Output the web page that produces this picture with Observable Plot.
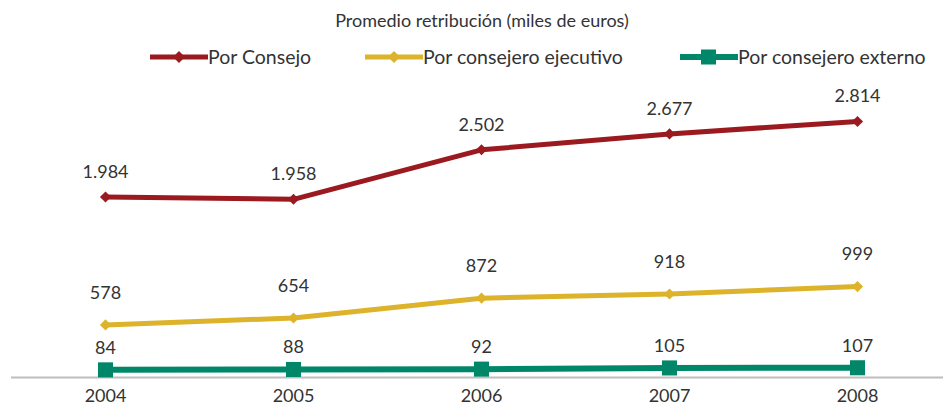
<!DOCTYPE html>
<html><head><meta charset="utf-8">
<script src="https://cdn.jsdelivr.net/npm/d3@7"></script>
<script src="https://cdn.jsdelivr.net/npm/@observablehq/plot@0.6"></script>
<style>
body{margin:0;background:#fff;font-family:Lato,"Open Sans",sans-serif;color:#333;}
#wrap{width:943px;}
#head{position:relative;height:75px;width:943px;}
#title{position:absolute;left:0;width:964px;top:9px;text-align:center;font-size:18px;}
.leg{position:absolute;top:45px;display:flex;align-items:center;font-size:19.5px;}
.leg svg{display:block;margin-right:0px;}
</style></head>
<body><div id="wrap"><div id="head"><div id="title"></div></div><div id="chart"></div></div>
<script>
const years = ["2004","2005","2006","2007","2008"];
const seriesNames = ["Por Consejo","Por consejero ejecutivo","Por consejero externo"];
const porConsejo = [1984,1958,2502,2677,2814];
const porEjecutivo = [578,654,872,918,999];
const porExterno = [84,88,92,105,107];
const colors = ["#9B1A1F","#DCB32A","#00876A"];
const titleText = "Promedio retribución (miles de euros)";

const fmt = v => v >= 1000 ? Math.floor(v/1000) + "." + String(v%1000).padStart(3,"0") : String(v);
const seriesValues = [porConsejo, porEjecutivo, porExterno];
const data = [];
seriesNames.forEach((s,i) => years.forEach((y,j) => data.push({series:s, year:y, value:seriesValues[i][j]})));

document.getElementById("title").textContent = titleText;
const head = document.getElementById("head");
const legLeft = [150,365,680];
seriesNames.forEach((s,i) => {
  const d = document.createElement("div");
  d.className = "leg"; d.style.left = legLeft[i] + "px";
  const sq = i === 2;
  d.innerHTML = `<svg width="58" height="16"><line x1="0" x2="58" y1="8" y2="8" stroke="${colors[i]}" stroke-width="${sq?6:5}"/>` +
    (sq ? `<rect x="21" y="0.5" width="15" height="15" fill="${colors[i]}"/>` :
          `<path d="M29 2 L35 8 L29 14 L23 8 Z" fill="${colors[i]}"/>`) + `</svg><span>${s}</span>`;
  head.appendChild(d);
});

const dys = {"Por Consejo":-25,"Por consejero ejecutivo":-32,"Por consejero externo":-22};
const chart = Plot.plot({
  width: 943, height: 332,
  marginTop: 29, marginBottom: 30, marginLeft: 11, marginRight: 0,
  style: {fontFamily: "Lato, 'Open Sans', sans-serif", fontSize: "18px", color: "#333", background: "#fff"},
  x: {type: "point", domain: years, range: [105, 857], padding: 0, label: null},
  y: {domain: [0, 3000], axis: null},
  color: {domain: seriesNames, range: colors},
  marks: [
    Plot.ruleY([0], {stroke: "#BDBDBD", strokeWidth: 2}),
    Plot.axisX({tickSize: 0, tickPadding: 12, fontSize: 18, fill: "#333", label: null}),
    Plot.line(data.filter(d => d.series !== seriesNames[2]), {x: "year", y: "value", z: "series", stroke: "series", strokeWidth: 5, strokeLinejoin: "round"}),
    Plot.line(data.filter(d => d.series === seriesNames[2]), {x: "year", y: "value", stroke: colors[2], strokeWidth: 6}),
    Plot.dot(data.filter(d => d.series !== seriesNames[2]), {x: "year", y: "value", fill: "series", symbol: "diamond2", r: 5, stroke: null}),
    Plot.dot(data.filter(d => d.series === seriesNames[2]), {x: "year", y: "value", fill: colors[2], symbol: "square", r: 8.5, stroke: null}),
    ...seriesNames.map(s => Plot.text(data.filter(d => d.series === s), {x: "year", y: "value", text: d => fmt(d.value), dy: dys[s], fill: "#333", fontSize: 18}))
  ]
});
document.getElementById("chart").appendChild(chart);
</script></body></html>
